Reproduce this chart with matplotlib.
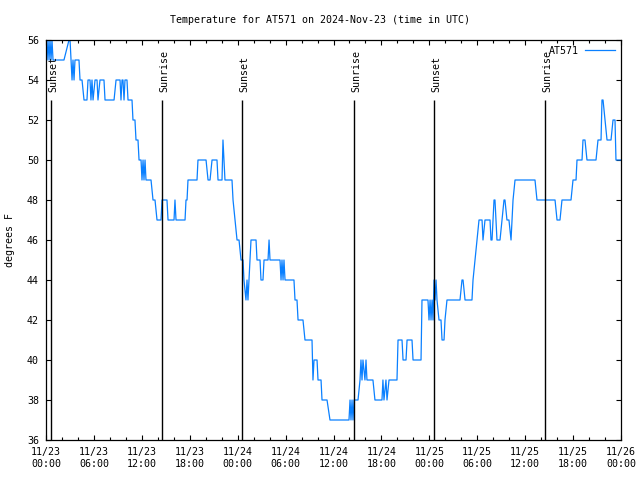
import matplotlib
matplotlib.use("Agg")
import matplotlib.pyplot as plt
import matplotlib.dates as mdates
import numpy as np
import pandas as pd

# hours since 2024-11-23 00:00 UTC, and temperature (F)
hours = [0.00, 0.13, 0.25, 0.38, 0.50, 0.63, 0.75, 0.88, 2.25, 2.88, 3.01, 3.13, 3.26, 3.38, 3.51, 3.63,
         4.13, 4.26, 4.51, 4.76, 5.13, 5.26, 5.51, 5.63, 5.76, 5.89, 6.14, 6.39, 6.51, 6.76, 7.26, 7.39,
         8.52, 8.77, 9.27, 9.39, 9.52, 9.64, 9.77, 9.89, 10.14, 10.27, 10.77, 10.89, 11.14, 11.27, 11.52,
         11.65, 11.90, 12.02, 12.15, 12.27, 12.40, 12.52, 13.15, 13.40, 13.65, 13.90, 14.40, 14.53, 15.15,
         15.28, 16.03, 16.15, 16.28, 17.41, 17.53, 17.66, 17.78, 18.91, 19.03, 20.04, 20.29, 20.54, 20.79,
         21.41, 21.54, 22.04, 22.16, 22.29, 22.41, 23.29, 23.42, 23.67, 23.92, 24.17, 24.42, 24.67, 24.79,
         25.04, 25.17, 25.29, 25.42, 25.55, 25.67, 26.30, 26.42, 26.80, 26.92, 27.17, 27.30, 27.80, 27.93,
         28.05, 29.30, 29.43, 29.55, 29.68, 29.80, 29.93, 31.05, 31.18, 31.43, 31.56, 32.18, 32.43, 33.31,
         33.43, 33.56, 33.94, 34.06, 34.44, 34.56, 35.19, 35.56, 37.94, 38.07, 38.19, 38.32, 38.44, 38.57,
         39.07, 39.32, 39.44, 39.57, 39.69, 39.94, 40.07, 40.19, 40.94, 41.19, 42.07, 42.19, 42.32, 42.57,
         42.70, 42.95, 43.95, 44.08, 44.20, 44.58, 44.71, 45.08, 45.21, 45.83, 45.96, 46.96, 47.08, 47.83,
         47.96, 48.09, 48.21, 48.34, 48.46, 48.59, 48.71, 48.84, 48.96, 49.21, 49.46, 49.59, 49.84, 49.96,
         50.21, 51.84, 52.09, 52.22, 52.47, 53.34, 53.47, 53.72, 53.97, 54.22, 54.60, 54.72, 54.97, 55.60,
         55.72, 55.85, 56.10, 56.22, 56.47, 56.85, 57.10, 57.35, 57.47, 57.72, 57.97, 58.23, 58.48, 58.73,
         61.23, 61.48, 63.74, 63.99, 64.36, 64.61, 65.74, 65.99, 66.37, 66.49, 67.12, 67.24, 67.49, 67.74,
         68.87, 69.12, 69.50, 69.62, 69.75, 70.00, 70.25, 70.75, 71.00, 71.25, 71.37, 72.00]
temps = [56, 55, 56, 55, 56, 55, 56, 55, 55, 56, 56, 55, 54, 55, 54, 55,
         55, 54, 54, 53, 53, 54, 54, 53, 54, 53, 54, 54, 53, 54, 54, 53,
         53, 54, 54, 53, 54, 54, 53, 54, 54, 53, 53, 52, 52, 51, 51,
         50, 50, 49, 50, 49, 50, 49, 49, 48, 48, 47, 47, 48, 48,
         47, 47, 48, 47, 47, 48, 48, 49, 49, 50, 50, 49, 49, 50,
         50, 49, 49, 51, 50, 49, 49, 48, 47, 46, 46, 45, 45, 44,
         43, 44, 43, 44, 45, 46, 46, 45, 45, 44, 44, 45, 45, 46,
         45, 45, 44, 45, 44, 45, 44, 44, 43, 43, 42, 42, 41, 41,
         39, 40, 40, 39, 39, 38, 38, 37, 37, 38, 37, 38, 37, 38,
         38, 39, 40, 39, 40, 39, 40, 39, 39, 38, 38, 39, 38, 39,
         38, 39, 39, 41, 41, 41, 40, 40, 41, 41, 40, 40, 43, 43,
         42, 43, 42, 43, 42, 44, 43, 44, 43, 42, 42, 41, 41, 42,
         43, 43, 44, 44, 43, 43, 44, 45, 46, 47, 47, 46, 47, 47,
         46, 46, 48, 48, 46, 46, 47, 48, 48, 47, 47, 46, 48, 49,
         49, 48, 48, 47, 47, 48, 48, 49, 49, 50, 50, 51, 51, 50,
         50, 51, 51, 53, 53, 52, 51, 51, 52, 52, 50, 50]

sun_labels = ["Sunset", "Sunrise", "Sunset", "Sunrise", "Sunset", "Sunrise"]
sun_hours = [0.63, 14.53, 24.54, 38.57, 48.58, 62.48]

start = pd.Timestamp("2024-11-23 00:00")
t = start + pd.to_timedelta(hours, unit="h")
t_sun = start + pd.to_timedelta(sun_hours, unit="h")

mono = "DejaVu Sans Mono"
fs = 7.2

fig = plt.figure(figsize=(6.4, 4.8), dpi=100)
ax = fig.add_axes([46/640, 1-440/480, (621-46)/640, 400/480])

ax.plot(t, temps, color="#0a80ff", lw=0.9, label="AT571")

for lab, ts in zip(sun_labels, t_sun):
    ax.vlines(ts, 36, 53, color="black", lw=1.0)
    ax.annotate(lab, (ts, 53.4), xytext=(1.5, 0), textcoords="offset points",
                rotation=90, ha="center", va="bottom", fontsize=fs, family=mono)

ax.set_xlim(start, start + pd.Timedelta(hours=72))
ax.set_ylim(36, 56)
ax.set_yticks(np.arange(36, 57, 2))
ax.xaxis.set_major_locator(mdates.HourLocator(byhour=[0, 6, 12, 18]))
ax.xaxis.set_minor_locator(mdates.HourLocator(interval=2))
ax.xaxis.set_major_formatter(mdates.DateFormatter("%m/%d\n%H:%M"))

ax.tick_params(which="both", direction="in", top=True, right=True, width=0.8)
ax.tick_params(which="major", length=3.5, pad=5)
ax.tick_params(which="minor", length=2.0)
for lbl in ax.get_xticklabels() + ax.get_yticklabels():
    lbl.set_fontsize(fs)
    lbl.set_family(mono)
for s in ax.spines.values():
    s.set_linewidth(0.9)

leg = ax.legend(loc="upper right", frameon=False, markerfirst=False,
                prop={"family": mono, "size": fs}, handlelength=3.0,
                borderaxespad=0.2, handletextpad=0.6)

fig.text(0.5, 1-20/480, "Temperature for AT571 on 2024-Nov-23 (time in UTC)",
         ha="center", va="center", fontsize=fs, family=mono)
fig.text(10/640, 0.5, "degrees F", rotation=90, ha="center", va="center",
         fontsize=fs, family=mono)

fig.savefig("out.png", dpi=100)
